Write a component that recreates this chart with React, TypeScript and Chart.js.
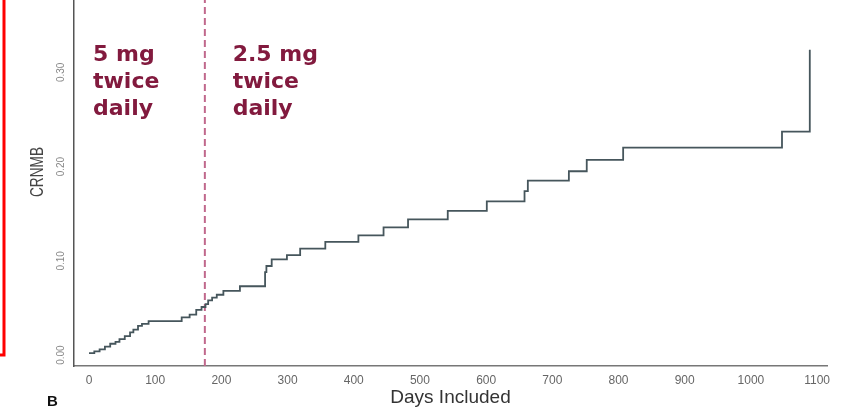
import React, { useEffect, useRef } from "react";
import { Chart, registerables } from "chart.js";

Chart.register(...registerables);

// ---- data ----
const DAYS: number[] = [
  0, 8, 16, 24, 32, 40, 46, 54, 62, 67, 74, 80, 90,
  140, 152, 162, 170, 176, 180, 186, 193, 203, 228,
  266, 268, 276, 299, 319, 357, 407, 445, 482, 542, 601,
  658, 663, 725, 752, 807, 1047, 1089,
];
const CRNMB: number[] = [
  0.002, 0.004, 0.006, 0.009, 0.012, 0.014, 0.017, 0.02, 0.024, 0.027, 0.031, 0.033, 0.036,
  0.04, 0.043, 0.048, 0.051, 0.054, 0.058, 0.061, 0.064, 0.068, 0.073,
  0.088, 0.0945, 0.1016, 0.106, 0.113, 0.12, 0.127, 0.1355, 0.144, 0.153, 0.163,
  0.174, 0.185, 0.195, 0.207, 0.22, 0.237, 0.324,
];
const SWITCH_DAY = 175;
const X_TICKS: number[] = [0, 100, 200, 300, 400, 500, 600, 700, 800, 900, 1000, 1100];
const Y_TICKS: number[] = [0, 0.1, 0.2, 0.3];
const X_RANGE: number[] = [-22.7, 1115];
const Y_RANGE: number[] = [-0.0116, 0.3767];
const LEFT_LABEL: string[] = ["5 mg", "twice", "daily"];
const RIGHT_LABEL: string[] = ["2.5 mg", "twice", "daily"];
const LEFT_LABEL_DAY = 6;
const RIGHT_LABEL_DAY = 217;
const X_TITLE = "Days Included";
const Y_TITLE = "CRNMB";
const PANEL = "B";

const ANNOT_COLOR = "#821a3e";

const overlay = {
  id: "overlay",
  afterDraw(chart: any) {
    const ctx = chart.ctx as CanvasRenderingContext2D;
    const xs = chart.scales.x;
    ctx.save();
    // dose annotations
    ctx.fillStyle = ANNOT_COLOR;
    ctx.font = 'bold 22px "DejaVu Sans"';
    ctx.textAlign = "left";
    ctx.textBaseline = "alphabetic";
    const lx = xs.getPixelForValue(LEFT_LABEL_DAY);
    const rx = xs.getPixelForValue(RIGHT_LABEL_DAY);
    LEFT_LABEL.forEach((t, i) => ctx.fillText(t, lx, 61 + i * 27));
    RIGHT_LABEL.forEach((t, i) => ctx.fillText(t, rx, 61 + i * 27));

    // y axis title (condensed as in the reference)
    ctx.save();
    ctx.translate(38, 172);
    ctx.rotate(-Math.PI / 2);
    ctx.scale(0.72, 1);
    ctx.fillStyle = "#444";
    ctx.font = '19px "Liberation Sans"';
    ctx.textAlign = "center";
    ctx.textBaseline = "middle";
    ctx.fillText(Y_TITLE, 0, 0);
    ctx.restore();

    // panel letter
    ctx.fillStyle = "#111";
    ctx.font = 'bold 15px "Liberation Sans"';
    ctx.textAlign = "left";
    ctx.textBaseline = "alphabetic";
    ctx.fillText(PANEL, 47, 406);

    // red frame edge on the left
    ctx.strokeStyle = "#ff0000";
    ctx.lineWidth = 3;
    ctx.beginPath();
    ctx.moveTo(4, 0);
    ctx.lineTo(4, 355);
    ctx.lineTo(0, 355);
    ctx.stroke();
    ctx.restore();
  },
};

export default function App() {
  const ref = useRef<HTMLCanvasElement | null>(null);

  useEffect(() => {
    document.body.style.margin = "0";
    const canvas = ref.current;
    if (!canvas) return;
    const chart = new Chart(canvas, {
      type: "line",
      data: {
        datasets: [
          {
            data: DAYS.map((d, i) => ({ x: d, y: CRNMB[i] })),
            stepped: "before",
            borderColor: "#46565c",
            borderWidth: 1.8,
            pointRadius: 0,
            fill: false,
          },
          {
            data: [
              { x: SWITCH_DAY, y: Y_RANGE[0] },
              { x: SWITCH_DAY, y: Y_RANGE[1] },
            ],
            borderColor: "#c0688c",
            borderWidth: 2,
            borderDash: [7, 4],
            pointRadius: 0,
            fill: false,
          },
        ],
      },
      options: {
        responsive: false,
        animation: false,
        layout: { padding: { left: 0, right: 16, top: 0, bottom: 0 } },
        plugins: {
          legend: { display: false },
          tooltip: { enabled: false },
        },
        scales: {
          x: {
            type: "linear",
            min: X_RANGE[0],
            max: X_RANGE[1],
            grid: { display: false, drawTicks: false },
            border: { display: true, color: "#777", width: 1.5 },
            ticks: {
              color: "#666",
              font: { size: 12, family: "Liberation Sans" },
              padding: 7,
              maxRotation: 0,
              autoSkip: false,
              callback: (v: any) => String(v),
            },
            title: {
              display: true,
              text: X_TITLE,
              color: "#333",
              font: { size: 19, family: "Liberation Sans" },
              padding: { top: 0, bottom: -2 },
            },
            afterBuildTicks: (s: any) => {
              s.ticks = X_TICKS.map((v) => ({ value: v }));
            },
            afterFit: (s: any) => {
              s.height = 41;
              s.paddingLeft = 0;
              s.paddingRight = 0;
            },
          },
          y: {
            type: "linear",
            min: Y_RANGE[0],
            max: Y_RANGE[1],
            grid: { display: false, drawTicks: false },
            border: { display: true, color: "#555", width: 1.5 },
            ticks: {
              color: "#888",
              font: { size: 10, family: "Liberation Sans" },
              minRotation: 90,
              maxRotation: 90,
              crossAlign: "center",
              padding: 3,
              callback: (v: any) => Number(v).toFixed(2),
            },
            afterBuildTicks: (s: any) => {
              s.ticks = Y_TICKS.map((v) => ({ value: v }));
            },
            afterFit: (s: any) => {
              s.width = 74;
              s.paddingTop = 0;
              s.paddingBottom = 0;
            },
          },
        },
      },
      plugins: [overlay],
    } as any);
    return () => chart.destroy();
  }, []);

  return (
    <div style={{ width: 843, height: 407, background: "#fff", position: "relative" }}>
      <canvas ref={ref} width={843} height={407} style={{ display: "block" }} />
    </div>
  );
}
